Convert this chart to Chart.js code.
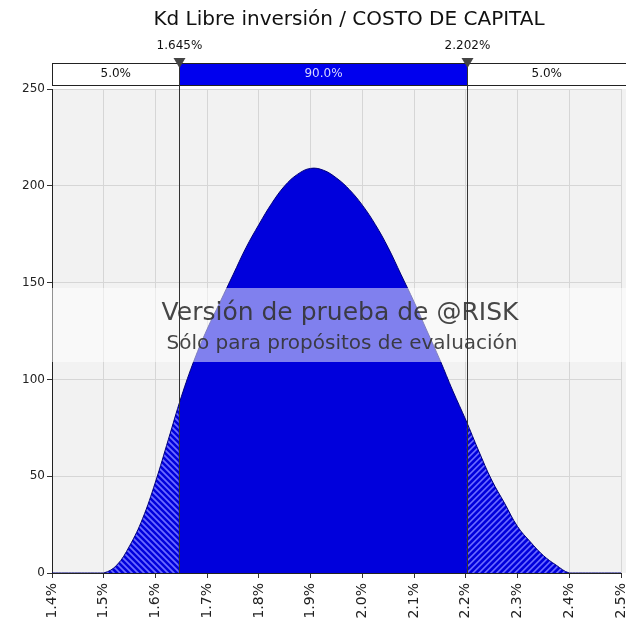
<!DOCTYPE html>
<html>
<head>
<meta charset="utf-8">
<script src="https://cdn.jsdelivr.net/npm/chart.js@4.4.1/dist/chart.umd.min.js"></script>
<style>
  html, body { margin: 0; padding: 0; background: #fff; overflow: hidden; }
</style>
</head>
<body>
<canvas id="dist-chart" width="626" height="627"></canvas>
<script>
// Kd Libre inversion - density from the @RISK output
let xPct = [
  1.400, 1.425, 1.450, 1.475, 1.500, 1.525, 1.550, 1.575, 1.600, 1.625,
  1.650, 1.675, 1.700, 1.725, 1.750, 1.775, 1.800, 1.825, 1.850, 1.875,
  1.900, 1.925, 1.950, 1.975, 2.000, 2.025, 2.050, 2.075, 2.100, 2.125,
  2.150, 2.175, 2.200, 2.225, 2.250, 2.275, 2.300, 2.325, 2.350, 2.375,
  2.400, 2.425, 2.450, 2.475, 2.500
];
let density = [
  0, 0, 0, 0, 0, 4, 14, 28, 47, 69,
  91, 110, 126, 140, 154, 168, 180, 191, 200, 206,
  209, 208, 204, 198, 190, 180, 168, 154, 140, 125,
  110, 94, 79, 63, 48, 36, 24, 16, 9, 4,
  0, 0, 0, 0, 0
];

// 5% / 95% cut points and the band labels
let cutPoints = [1.645, 2.202];
let cutLabels = ['1.645%', '2.202%'];
let bandLabels = ['5.0%', '90.0%', '5.0%'];

let chartTitle = 'Kd Libre inversión / COSTO DE CAPITAL';
let watermark = ['Versión de prueba de @RISK', 'Sólo para propósitos de evaluación'];

const FONT = "Tahoma, 'DejaVu Sans', sans-serif";
const BLUE = '#0000dc';
const HATCH = '#6c6cff';

function hatch(c, x0, x1, h, dir) {
  c.save();
  c.beginPath();
  c.rect(x0, 0, x1 - x0, h);
  c.clip();
  c.strokeStyle = HATCH;
  c.lineWidth = 1.6;
  for (let k = x0 - h; k < x1 + h; k += 6) {
    c.beginPath();
    c.moveTo(k, 0);
    c.lineTo(k + dir * h, h);
    c.stroke();
  }
  c.restore();
}

// solid blue in the middle, hatched tails outside the cut points
function tailFill(context) {
  const chart = context.chart;
  if (!chart.chartArea || !chart.scales.x) return BLUE;
  const off = document.createElement('canvas');
  off.width = chart.width;
  off.height = chart.height;
  const c = off.getContext('2d');
  c.fillStyle = BLUE;
  c.fillRect(0, 0, off.width, off.height);
  const xl = chart.scales.x.getPixelForValue(cutPoints[0]);
  const xr = chart.scales.x.getPixelForValue(cutPoints[1]);
  hatch(c, 0, xl, off.height, 1);
  hatch(c, xr, off.width, off.height, -1);
  return chart.ctx.createPattern(off, 'no-repeat');
}

const plotBackground = {
  id: 'plotBackground',
  beforeDraw(chart) {
    const { ctx, chartArea: a } = chart;
    ctx.save();
    ctx.fillStyle = '#f2f2f2';
    ctx.fillRect(a.left, a.top, chart.width - a.left, a.bottom - a.top);
    ctx.restore();
  }
};

const watermarkPlugin = {
  id: 'watermarkPlugin',
  afterDatasetsDraw(chart) {
    const { ctx, chartArea: a } = chart;
    ctx.save();
    ctx.fillStyle = 'rgba(255,255,255,0.5)';
    ctx.fillRect(a.left, 288, chart.width - a.left, 74);
    ctx.fillStyle = 'rgba(50,50,50,0.9)';
    ctx.textAlign = 'center';
    ctx.textBaseline = 'middle';
    ctx.font = '25px ' + FONT;
    ctx.fillText(watermark[0], 340, 313);
    ctx.font = '20px ' + FONT;
    ctx.fillText(watermark[1], 342, 344);
    ctx.restore();
  }
};

const headerPlugin = {
  id: 'headerPlugin',
  afterDraw(chart) {
    const { ctx, chartArea: a } = chart;
    const x = chart.scales.x;
    const xl = Math.round(x.getPixelForValue(cutPoints[0])) + 0.5;
    const xr = Math.round(x.getPixelForValue(cutPoints[1])) + 0.5;
    const top = 63.5, bot = 85.5;
    ctx.save();
    // band
    ctx.fillStyle = '#fff';
    ctx.fillRect(a.left, top, chart.width - a.left + 2, bot - top);
    ctx.fillStyle = '#0000ee';
    ctx.fillRect(xl, top, xr - xl, bot - top);
    ctx.strokeStyle = '#222';
    ctx.lineWidth = 1;
    ctx.strokeRect(a.left + 0.5, top, chart.width - a.left + 4, bot - top);
    ctx.font = '12px ' + FONT;
    ctx.textAlign = 'center';
    ctx.textBaseline = 'middle';
    ctx.fillStyle = '#111';
    ctx.fillText(bandLabels[0], (a.left + xl) / 2, 74);
    ctx.fillText(bandLabels[2], (xr + chart.width) / 2, 74);
    ctx.fillStyle = '#d8d8ff';
    ctx.fillText(bandLabels[1], (xl + xr) / 2, 74);
    // cut lines
    ctx.strokeStyle = '#333';
    [xl, xr].forEach(px => {
      ctx.beginPath();
      ctx.moveTo(px, top);
      ctx.lineTo(px, a.bottom);
      ctx.stroke();
    });
    // triangles and labels
    ctx.fillStyle = '#444';
    [xl, xr].forEach(px => {
      ctx.beginPath();
      ctx.moveTo(px - 6, 58);
      ctx.lineTo(px + 6, 58);
      ctx.lineTo(px, 68);
      ctx.closePath();
      ctx.fill();
    });
    ctx.fillStyle = '#111';
    ctx.font = '12px ' + FONT;
    ctx.fillText(cutLabels[0], xl, 46);
    ctx.fillText(cutLabels[1], xr, 46);
    // title
    ctx.font = '20px ' + FONT;
    ctx.fillText(chartTitle, 349, 20);
    ctx.restore();
  }
};

let ctx = document.getElementById('dist-chart').getContext('2d');

let distChart = new Chart(ctx, {
  type: 'line',
  data: {
    datasets: [{
      data: xPct.map((v, i) => ({ x: v, y: density[i] })),
      borderColor: '#00007a',
      borderWidth: 1,
      backgroundColor: tailFill,
      fill: 'origin',
      pointRadius: 0,
      tension: 0.4
    }]
  },
  options: {
    responsive: false,
    animation: false,
    layout: { padding: { top: 89, right: 5, left: 0, bottom: 0 } },
    plugins: {
      legend: { display: false },
      tooltip: { enabled: false },
      title: { display: false }
    },
    scales: {
      x: {
        type: 'linear',
        min: 1.4,
        max: 2.5,
        ticks: {
          stepSize: 0.1,
          autoSkip: false,
          minRotation: 90,
          maxRotation: 90,
          padding: 5,
          color: '#222',
          font: { family: FONT, size: 14 },
          callback: v => v.toFixed(1) + '%'
        },
        grid: { color: '#d6d6d6', tickColor: '#333', tickLength: 5 },
        border: { color: '#222' },
        afterFit: s => { s.height = 54; s.paddingLeft = 0; s.paddingRight = 0; }
      },
      y: {
        min: 0,
        max: 250,
        ticks: {
          stepSize: 50,
          padding: 2,
          color: '#222',
          font: { family: FONT, size: 12 }
        },
        grid: { color: '#d6d6d6', tickColor: '#333', tickLength: 5 },
        border: { color: '#222' },
        afterFit: s => { s.width = 52; }
      }
    }
  },
  plugins: [plotBackground, watermarkPlugin, headerPlugin]
});
</script>
</body>
</html>
